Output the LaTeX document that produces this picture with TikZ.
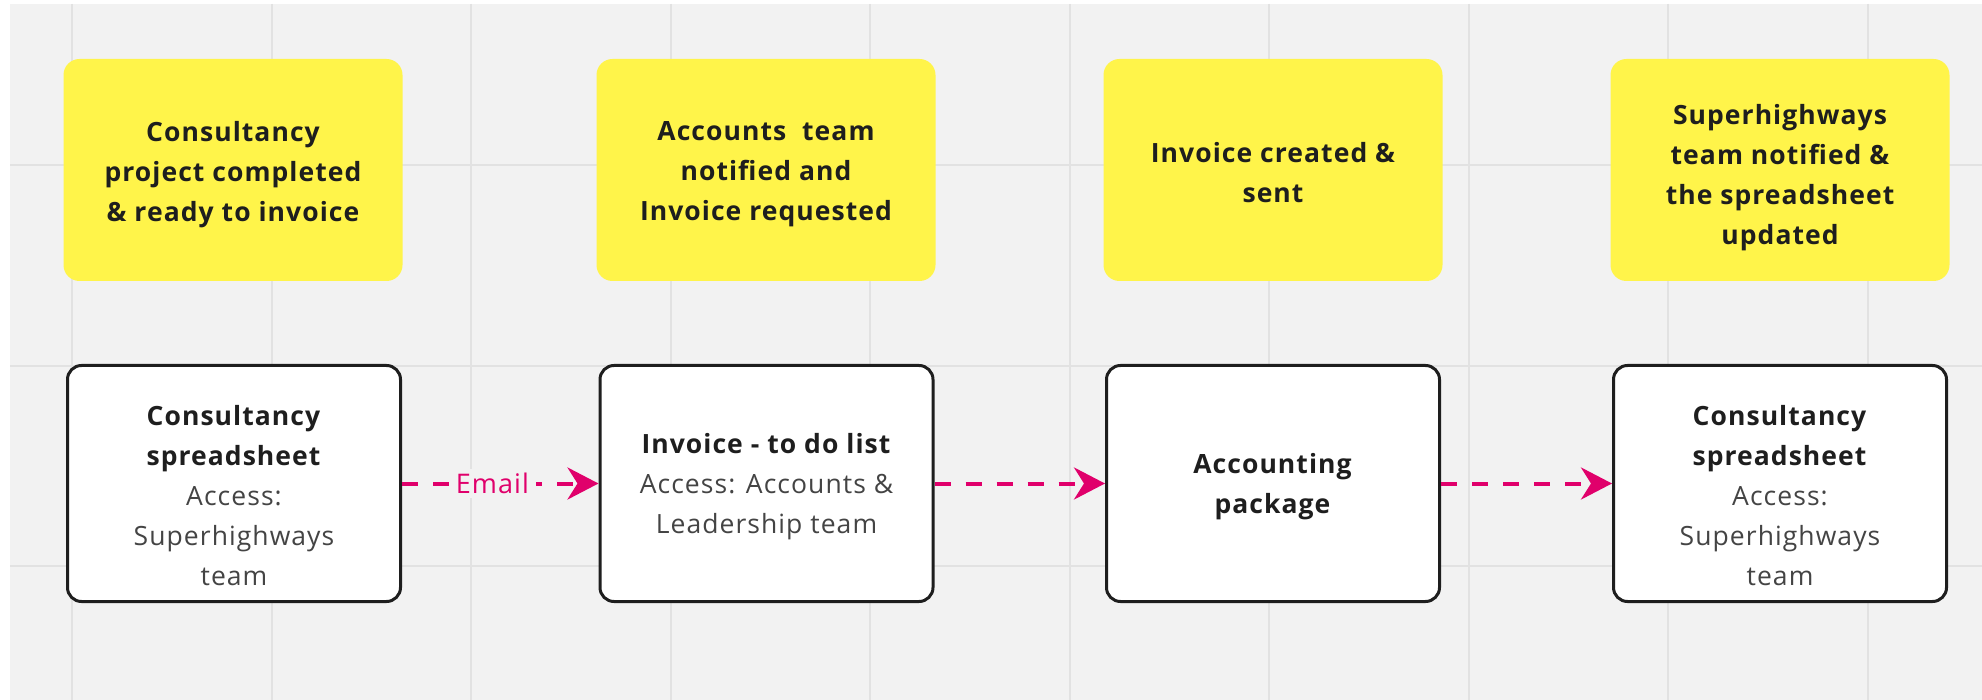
\documentclass[tikz,border=0pt]{standalone}
\usepackage{fontspec}
\setmainfont{Open Sans}[LetterSpace=4]
\usetikzlibrary{arrows.meta}
\definecolor{bg}{HTML}{F2F2F2}
\definecolor{gridc}{HTML}{E2E2E2}
\definecolor{sticky}{HTML}{FFF44A}
\definecolor{pinkc}{HTML}{E0006B}
\definecolor{ink}{HTML}{1E1E1E}
\definecolor{subink}{HTML}{444444}
\begin{document}
\begin{tikzpicture}[x=1pt,y=-1pt,
  stickynote/.style={fill=sticky, rounded corners=16pt, minimum width=339pt, minimum height=222pt, inner sep=0pt},
  toolbox/.style={draw=ink, line width=3pt, fill=white, rounded corners=14pt, minimum width=333pt,
    minimum height=236pt, inner sep=0pt},
  stickytext/.style={align=center, font=\bfseries\fontsize{26.5}{40}\selectfont, text=ink, inner sep=0pt},
  boxtext/.style={align=center, font=\fontsize{26.5}{40}\selectfont, text=ink, inner sep=0pt},
  flow/.style={draw=pinkc, line width=4pt, dash pattern=on 16pt off 15pt,
    -{Stealth[length=31pt,width=32pt,inset=10pt]}},
  flowlabel/.style={fill=bg, text=pinkc, font=\fontsize{27}{30}\selectfont, inner xsep=7pt, inner ysep=4pt},
  gridline/.style={draw=gridc, line width=2pt}
]
\useasboundingbox (0,0) rectangle (1982,700);
\fill[white] (0,0) rectangle (1982,700);
\fill[bg] (10,4) rectangle (1982,700);
% grid
\foreach \gx in {72,272,471,671,870,1070,1269,1469,1668,1868}
  \draw[gridline] (\gx,4) -- (\gx,700);
\foreach \gy in {165,366,566}
  \draw[gridline] (10,\gy) -- (1982,\gy);

% sticky notes
\node[stickynote] (y1) at (233,170) {};
\node[stickytext] (y1t) at (233,174.5) {Consultancy\\project completed\\\& ready to invoice};
\node[stickynote] (y2) at (766,170) {};
\node[stickytext] (y2t) at (766,174.5) {Accounts~ team\\notified and\\Invoice requested};
\node[stickynote] (y3) at (1273,170) {};
\node[stickytext] (y3t) at (1273,173) {Invoice created \&\\sent};
\node[stickynote] (y4) at (1780,170) {};
\node[stickytext] (y4t) at (1780,178) {Superhighways\\team notified \&\\the spreadsheet\\updated};

% tool boxes
\node[toolbox] (w1) at (234,483.5) {};
\node[boxtext] (w1t) at (234,496) {\textbf{Consultancy}\\\textbf{spreadsheet}\\{\color{subink}Access:}\\{\color{subink}Superhighways}\\{\color{subink}team}};
\node[toolbox] (w2) at (766.5,483.5) {};
\node[boxtext] (w2t) at (766.5,487) {\textbf{Invoice - to do list}\\{\color{subink}Access: Accounts \&}\\{\color{subink}Leadership team}};
\node[toolbox] (w3) at (1273,483.5) {};
\node[boxtext] (w3t) at (1273,487) {\textbf{Accounting}\\\textbf{package}};
\node[toolbox] (w4) at (1780,483.5) {};
\node[boxtext] (w4t) at (1780,496) {\textbf{Consultancy}\\\textbf{spreadsheet}\\{\color{subink}Access:}\\{\color{subink}Superhighways}\\{\color{subink}team}};

% connectors
\draw[flow] (w1.east) -- node[flowlabel, pos=0.46] (email) {Email} (w2.west);
\draw[flow] (w2.east) -- (w3.west);
\draw[flow] (w3.east) -- (w4.west);
\end{tikzpicture}
\end{document}
